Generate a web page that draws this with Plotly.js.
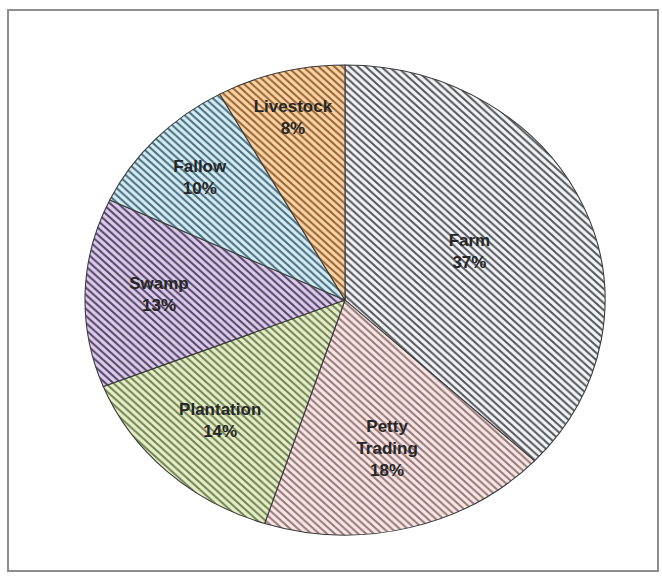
<!DOCTYPE html>
<html>
<head>
<meta charset="utf-8">
<script src="https://cdn.plot.ly/plotly-3.0.1.min.js"></script>
<style>
  html, body { margin: 0; padding: 0; background: #ffffff; }
  #wrap { position: relative; width: 662px; height: 576px; }
  #chart { width: 662px; height: 576px; }
  #frame { position: absolute; left: 7px; top: 9px; width: 652px; height: 563px;
           border: 2px solid #8e8e8e; pointer-events: none; box-sizing: border-box; }
</style>
</head>
<body>
<div id="wrap">
  <div id="chart"></div>
  <div id="frame"></div>
</div>
<script>
// Data
const categories = ["Farm", "Petty Trading", "Plantation", "Swamp", "Fallow", "Livestock"];
const labelText  = ["Farm", "Petty<br>Trading", "Plantation", "Swamp", "Fallow", "Livestock"];
const shares     = [37, 18, 14, 13, 10, 8];

// Styles
const bgColors = ["#f1f4f8", "#f9e6e5", "#e7efc9", "#dbcee7", "#d5ecf4", "#fad5a8"];
const fgColors = ["#555555", "#937878", "#6f8253", "#55416d", "#476c7d", "#98612f"];

const trace = {
  type: "pie",
  labels: categories,
  values: shares,
  text: labelText,
  texttemplate: "%{text}<br>%{percent}",
  textposition: "inside",
  insidetextorientation: "horizontal",
  direction: "clockwise",
  rotation: 0,
  sort: false,
  hoverinfo: "none",
  textfont: { family: "Liberation Sans, Arial, sans-serif", size: 17, color: "#262626", weight: "bold" },
  marker: {
    colors: bgColors,
    line: { color: "#3a3a3a", width: 1 },
    pattern: {
      shape: "\\",
      fillmode: "replace",
      bgcolor: bgColors,
      fgcolor: fgColors,
      size: 5,
      solidity: 0.38
    }
  }
};

const layout = {
  width: 662,
  height: 576,
  margin: { l: 110, r: 82, t: 65, b: 41 },
  showlegend: false,
  paper_bgcolor: "#ffffff",
  plot_bgcolor: "#ffffff"
};

Plotly.newPlot("chart", [trace], layout, { displayModeBar: false, staticPlot: true }).then(function () {
  // Stretch the pie horizontally into the ellipse of the reference
  const tr = document.querySelector(".pielayer .trace");
  if (!tr) return;
  const bb = tr.getBBox();
  const cx = bb.x + bb.width / 2, cy = bb.y + bb.height / 2;
  const sx = 520 / 470;
  tr.querySelectorAll("path.surface").forEach(function (p) {
    p.setAttribute("transform", "translate(" + cx + "," + cy + ") scale(" + sx + ",1) translate(" + (-cx) + "," + (-cy) + ")");
  });
  // Move the labels with the stretch
  tr.querySelectorAll("g.slicetext text").forEach(function (t) {
    const tf = t.getAttribute("transform") || "";
    const m = tf.match(/translate\(\s*([-\d.eE]+)[ ,]+([-\d.eE]+)\s*\)/);
    if (m) {
      const x = parseFloat(m[1]);
      const nx = cx + (x - cx) * sx;
      t.setAttribute("transform", tf.replace(m[0], "translate(" + nx + "," + m[2] + ")"));
    }
  });
});
</script>
</body>
</html>
